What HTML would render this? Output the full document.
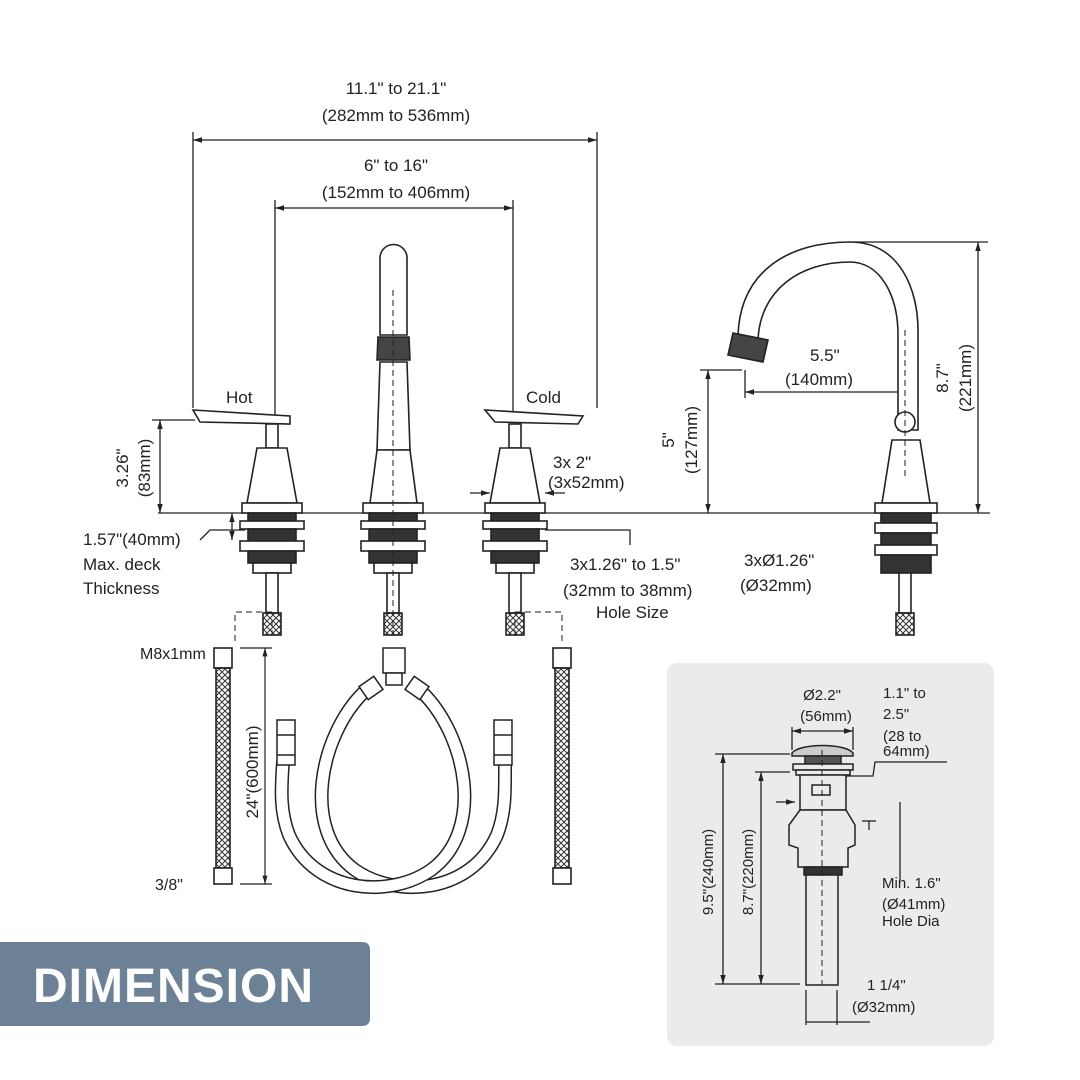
<!DOCTYPE html>
<html><head><meta charset="utf-8"><style>
html,body{margin:0;padding:0;background:#fff;}
svg{display:block;}
text{font-family:"Liberation Sans",sans-serif;fill:#222;}
</style></head><body>
<svg width="1080" height="1080" viewBox="0 0 1080 1080" xmlns="http://www.w3.org/2000/svg">
<defs>
<marker id="a" viewBox="0 0 10 10" refX="10" refY="5" markerWidth="7" markerHeight="7" orient="auto-start-reverse"><path d="M0,2 L10,5 L0,8 z" fill="#222"/></marker>
<pattern id="br" width="6" height="6" patternUnits="userSpaceOnUse"><path d="M0,6 L6,0 M0,0 L6,6" stroke="#333" stroke-width="1"/></pattern>
</defs>
<g stroke="#222" stroke-width="1.3" fill="none">
<line x1="193" y1="140" x2="597" y2="140" marker-start="url(#a)" marker-end="url(#a)"/>
<line x1="193" y1="132" x2="193" y2="408"/><line x1="597" y1="132" x2="597" y2="408"/>
<line x1="275" y1="208" x2="513" y2="208" marker-start="url(#a)" marker-end="url(#a)"/>
<line x1="275" y1="200" x2="275" y2="418"/><line x1="513" y1="200" x2="513" y2="418"/>
<line x1="158" y1="513" x2="990" y2="513"/>
<line x1="160" y1="420" x2="160" y2="513" marker-start="url(#a)" marker-end="url(#a)"/>
<line x1="152" y1="420" x2="195" y2="420"/>
<line x1="232" y1="513" x2="232" y2="540" marker-start="url(#a)" marker-end="url(#a)"/>
<polyline points="200,540 210,530 245,530"/>
<line x1="470" y1="493" x2="490" y2="493" marker-end="url(#a)"/><line x1="565" y1="493" x2="545" y2="493" marker-end="url(#a)"/>
<polyline points="545,530 630,530 630,545"/>
<line x1="745" y1="392" x2="915" y2="392" marker-start="url(#a)" marker-end="url(#a)"/>
<line x1="745" y1="370" x2="745" y2="398"/>
<line x1="708" y1="370" x2="708" y2="513" marker-start="url(#a)" marker-end="url(#a)"/>
<line x1="700" y1="370" x2="742" y2="370"/>
<line x1="978" y1="242" x2="978" y2="513" marker-start="url(#a)" marker-end="url(#a)"/>
<line x1="855" y1="242" x2="988" y2="242"/>
</g>
<g stroke="#222" stroke-width="1.6" fill="#fff">
<g>
<path d="M193,410 L290,416 L290,424 L200,422 Z"/>
<rect x="266" y="424" width="12" height="24"/>
<path d="M257,448 L287,448 L297,503 L247,503 Z"/>
<rect x="242" y="503" width="60" height="10"/>
<rect x="248" y="513" width="48" height="8" fill="#333"/>
<rect x="240" y="521" width="64" height="8"/>
<rect x="248" y="529" width="48" height="12" fill="#333"/>
<rect x="240" y="541" width="64" height="10"/>
<rect x="248" y="551" width="48" height="12" fill="#333"/>
<rect x="253" y="563" width="38" height="10"/>
<rect x="266" y="573" width="12" height="40"/>
<rect x="263" y="613" width="18" height="22" fill="url(#br)"/>
</g>
<g transform="translate(243,0)">
<path d="M252,410 L350,416 L345,424 L262,422 Z" transform="translate(-10,0)"/>
<rect x="266" y="424" width="12" height="24"/>
<path d="M257,448 L287,448 L297,503 L247,503 Z"/>
<rect x="242" y="503" width="60" height="10"/>
<rect x="248" y="513" width="48" height="8" fill="#333"/>
<rect x="240" y="521" width="64" height="8"/>
<rect x="248" y="529" width="48" height="12" fill="#333"/>
<rect x="240" y="541" width="64" height="10"/>
<rect x="248" y="551" width="48" height="12" fill="#333"/>
<rect x="253" y="563" width="38" height="10"/>
<rect x="266" y="573" width="12" height="40"/>
<rect x="263" y="613" width="18" height="22" fill="url(#br)"/>
</g>
<path d="M380,335 L380,258 A13.5,13.5 0 0 1 407,258 L407,335 Z"/>
<path d="M378,337 L409,337 L410,360 L377,360 Z" fill="#444"/>
<path d="M380,362 L407,362 L410,450 L377,450 Z"/>
<path d="M377,450 L410,450 L417,503 L370,503 Z"/>
<rect x="363" y="503" width="60" height="10"/>
<rect x="369" y="513" width="48" height="8" fill="#333"/>
<rect x="361" y="521" width="64" height="8"/>
<rect x="369" y="529" width="48" height="12" fill="#333"/>
<rect x="361" y="541" width="64" height="10"/>
<rect x="369" y="551" width="48" height="12" fill="#333"/>
<rect x="374" y="563" width="38" height="10"/>
<rect x="387" y="573" width="12" height="40"/>
<rect x="384" y="613" width="18" height="22" fill="url(#br)"/>
<path d="M738,336 C740,270 790,242 850,242 C900,242 918,290 918,330 L918,430 L898,430 L898,335 C898,295 880,262 850,262 C800,262 760,290 758,340 Z"/>
<path d="M733,333 L768,340 L763,362 L728,355 Z" fill="#444"/>
<circle cx="905" cy="422" r="10"/>
<path d="M892,440 L920,440 L930,503 L882,503 Z"/>
<rect x="875" y="503" width="62" height="10"/>
<rect x="881" y="513" width="50" height="10" fill="#333"/>
<rect x="875" y="523" width="62" height="10"/>
<rect x="881" y="533" width="50" height="12" fill="#333"/>
<rect x="875" y="545" width="62" height="10"/>
<rect x="881" y="555" width="50" height="18" fill="#333"/>
<rect x="899" y="573" width="12" height="40"/>
<rect x="896" y="613" width="18" height="22" fill="url(#br)"/>
</g>
<g stroke="#222" stroke-width="1" stroke-dasharray="6,4" fill="none">
<line x1="393" y1="290" x2="393" y2="640"/>
<line x1="272" y1="620" x2="272" y2="640"/><line x1="515" y1="620" x2="515" y2="640"/>
<polyline points="272,612 235,612 235,645"/><polyline points="515,612 562,612 562,645"/>
<line x1="905" y1="330" x2="905" y2="480"/>
</g>
<!-- hoses -->
<g stroke="#222" stroke-width="1.6" fill="#fff">
<rect x="214" y="648" width="18" height="20"/><rect x="216" y="668" width="14" height="200" fill="url(#br)"/><rect x="214" y="868" width="18" height="16"/>
<rect x="553" y="648" width="18" height="20"/><rect x="555" y="668" width="14" height="200" fill="url(#br)"/><rect x="553" y="868" width="18" height="16"/>
</g>
<g fill="none">
<path d="M364,692 C320,735 300,830 355,870 C395,898 470,895 497,835 C506,812 505,790 505,762" stroke="#222" stroke-width="14"/>
<path d="M364,692 C320,735 300,830 355,870 C395,898 470,895 497,835 C506,812 505,790 505,762" stroke="#fff" stroke-width="11"/>
<path d="M422,692 C466,735 486,830 431,870 C391,898 316,895 289,835 C280,812 281,790 283,762" stroke="#222" stroke-width="14"/>
<path d="M422,692 C466,735 486,830 431,870 C391,898 316,895 289,835 C280,812 281,790 283,762" stroke="#fff" stroke-width="11"/>
</g>
<g stroke="#222" stroke-width="1.5" fill="#fff">
<rect x="277" y="720" width="18" height="45"/><line x1="277" y1="735" x2="295" y2="735"/><line x1="277" y1="755" x2="295" y2="755"/>
<rect x="494" y="720" width="18" height="45"/><line x1="494" y1="735" x2="512" y2="735"/><line x1="494" y1="755" x2="512" y2="755"/>
<rect x="383" y="648" width="22" height="25"/>
<rect x="386" y="673" width="16" height="12"/>
<rect x="362" y="680" width="18" height="16" transform="rotate(-35 371 688)"/><rect x="408" y="680" width="18" height="16" transform="rotate(35 417 688)"/>
</g>
<g stroke="#222" stroke-width="1.2" fill="none">
<line x1="265" y1="648" x2="265" y2="884" marker-start="url(#a)" marker-end="url(#a)"/>
<line x1="240" y1="648" x2="272" y2="648"/><line x1="240" y1="884" x2="272" y2="884"/>
</g>
<rect x="667" y="663" width="327" height="383" rx="10" fill="#ebebeb"/>
<g stroke="#222" stroke-width="1.3" fill="none">
<line x1="792" y1="731" x2="853" y2="731" marker-start="url(#a)" marker-end="url(#a)"/>
<line x1="792" y1="727" x2="792" y2="750"/><line x1="853" y1="727" x2="853" y2="750"/>
<line x1="723" y1="754" x2="723" y2="984" marker-start="url(#a)" marker-end="url(#a)"/>
<line x1="715" y1="754" x2="790" y2="754"/><line x1="715" y1="984" x2="800" y2="984"/>
<line x1="761" y1="772" x2="761" y2="984" marker-start="url(#a)" marker-end="url(#a)"/>
<line x1="755" y1="772" x2="790" y2="772"/>
<polyline points="845,776 873,776 875,762 947,762"/>
<line x1="776" y1="802" x2="795" y2="802" marker-end="url(#a)"/>
<polyline points="900,802 900,880 M849,802 900,802"/>
<line x1="862" y1="821" x2="876" y2="821"/><line x1="869" y1="821" x2="869" y2="830"/>
<line x1="806" y1="990" x2="806" y2="1025"/><line x1="837" y1="990" x2="837" y2="1025"/>
<line x1="806" y1="1022" x2="837" y2="1022"/><line x1="837" y1="1022" x2="870" y2="1022"/>
</g>
<g stroke="#222" stroke-width="1.5" fill="#ebebeb">
<path d="M792,753 C800,743 845,743 853,753 L853,756 L792,756 Z" fill="#ccc"/>
<rect x="805" y="756" width="36" height="8" fill="#555"/>
<rect x="793" y="764" width="60" height="6"/>
<rect x="796" y="770" width="54" height="5"/>
<rect x="800" y="775" width="46" height="35"/>
<rect x="812" y="785" width="18" height="10"/>
<path d="M800,810 L846,810 L855,825 L855,845 L848,848 L848,867 L798,867 L798,848 L789,845 L789,825 Z"/>
<rect x="804" y="867" width="38" height="8" fill="#333"/>
<rect x="806" y="875" width="32" height="110"/>
</g>
<line x1="822" y1="750" x2="822" y2="985" stroke="#222" stroke-width="1" stroke-dasharray="6,4"/>
<path d="M0,942 L362,942 Q370,942 370,950 L370,1018 Q370,1026 362,1026 L0,1026 Z" fill="#6c8195"/>
<text x="33" y="1002" style="font-size:48px;font-weight:bold;fill:#fff;letter-spacing:1px">DIMENSION</text>
<g style="font-size:17px">
<text x="396" y="94" text-anchor="middle">11.1" to 21.1"</text>
<text x="396" y="121" text-anchor="middle">(282mm to 536mm)</text>
<text x="396" y="171" text-anchor="middle">6" to 16"</text>
<text x="396" y="198" text-anchor="middle">(152mm to 406mm)</text>
<text x="226" y="403">Hot</text>
<text x="526" y="403">Cold</text>
<text transform="translate(128,468) rotate(-90)" text-anchor="middle">3.26"</text>
<text transform="translate(150,468) rotate(-90)" text-anchor="middle">(83mm)</text>
<text x="83" y="545">1.57"(40mm)</text>
<text x="83" y="570">Max. deck</text>
<text x="83" y="594">Thickness</text>
<text x="553" y="468">3x 2"</text>
<text x="548" y="488">(3x52mm)</text>
<text x="570" y="570">3x1.26" to 1.5"</text>
<text x="563" y="596">(32mm to 38mm)</text>
<text x="596" y="618">Hole Size</text>
<text x="810" y="361">5.5"</text>
<text x="785" y="385">(140mm)</text>
<text transform="translate(674,440) rotate(-90)" text-anchor="middle">5"</text>
<text transform="translate(697,440) rotate(-90)" text-anchor="middle">(127mm)</text>
<text transform="translate(948,378) rotate(-90)" text-anchor="middle">8.7"</text>
<text transform="translate(971,378) rotate(-90)" text-anchor="middle">(221mm)</text>
<text x="744" y="566">3xØ1.26"</text>
<text x="740" y="591">(Ø32mm)</text>
<text x="140" y="659" style="font-size:16px">M8x1mm</text>
<text x="155" y="890" style="font-size:16px">3/8"</text>
<text transform="translate(258,772) rotate(-90)" text-anchor="middle">24"(600mm)</text>
</g>
<g style="font-size:15px">
<text x="822" y="700" text-anchor="middle">Ø2.2"</text>
<text x="826" y="721" text-anchor="middle">(56mm)</text>
<text x="883" y="698">1.1" to</text>
<text x="883" y="719">2.5"</text>
<text x="883" y="741">(28 to</text>
<text x="883" y="756">64mm)</text>
<text x="882" y="888">Min. 1.6"</text>
<text x="882" y="909">(Ø41mm)</text>
<text x="882" y="926">Hole Dia</text>
<text x="867" y="990">1 1/4"</text>
<text x="852" y="1012">(Ø32mm)</text>
<text transform="translate(713,872) rotate(-90)" text-anchor="middle">9.5"(240mm)</text>
<text transform="translate(753,872) rotate(-90)" text-anchor="middle">8.7"(220mm)</text>
</g>
</svg>
</body></html>
